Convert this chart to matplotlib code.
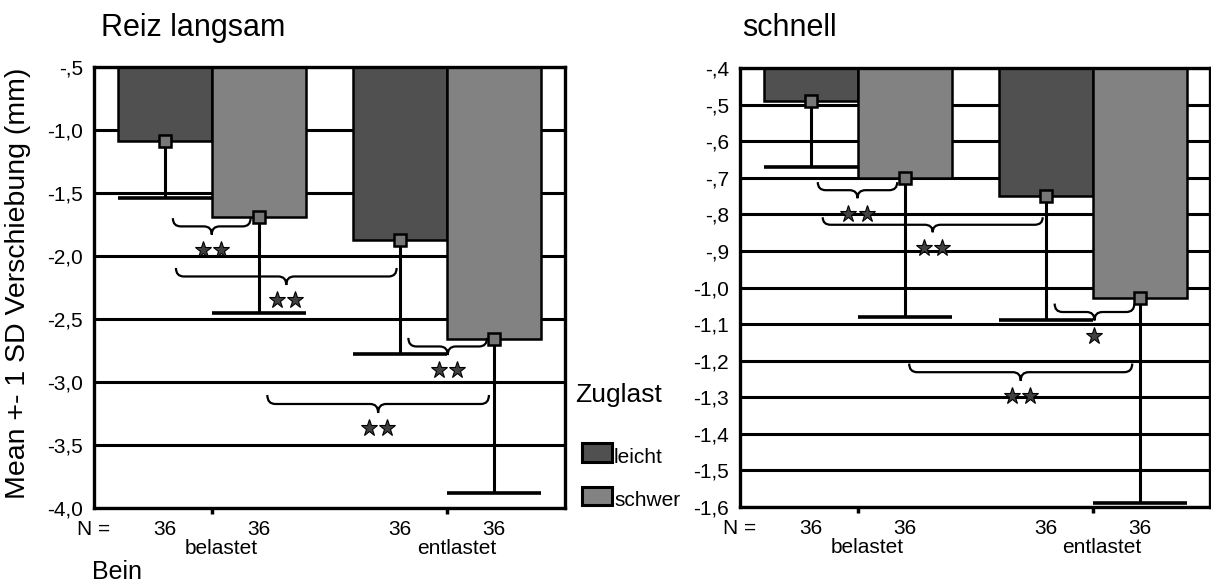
import matplotlib
matplotlib.use("Agg")
import matplotlib.pyplot as plt
from matplotlib.path import Path
from matplotlib.patches import PathPatch, Rectangle
from matplotlib.transforms import offset_copy, blended_transform_factory

plt.rcParams['font.family'] = ['Liberation Sans', 'DejaVu Sans']

# Daten
groups = ["belastet", "entlastet"]
loads = ["leicht", "schwer"]
n_leicht = [36, 36]
n_schwer = [36, 36]

# Reiz langsam
slow_leicht_mean = [-1.09, -1.87]
slow_schwer_mean = [-1.69, -2.66]
slow_leicht_sd = [0.45, 0.91]
slow_schwer_sd = [0.76, 1.22]
slow_ticks = [-0.5, -1.0, -1.5, -2.0, -2.5, -3.0, -3.5, -4.0]

# schnell
fast_leicht_mean = [-0.49, -0.75]
fast_schwer_mean = [-0.70, -1.03]
fast_leicht_sd = [0.18, 0.34]
fast_schwer_sd = [0.38, 0.56]
fast_ticks = [-0.4, -0.5, -0.6, -0.7, -0.8, -0.9, -1.0, -1.1, -1.2, -1.3, -1.4, -1.5, -1.6]

# Signifikanz-Klammern (x von, x bis, y oben, y Spitze, Anzahl Sterne)
slow_brace_x0 = [-0.165, -0.152, 0.835, 0.236]
slow_brace_x1 = [0.165, 0.785, 1.169, 1.177]
slow_brace_top = [-1.70, -2.095, -2.65, -3.103]
slow_brace_tip = [-1.83, -2.23, -2.786, -3.246]
slow_stars = [2, 2, 2, 2]

fast_brace_x0 = [-0.169, -0.148, 0.839, 0.22]
fast_brace_x1 = [0.169, 0.788, 1.178, 1.169]
fast_brace_top = [-0.712, -0.808, -1.044, -1.208]
fast_brace_tip = [-0.756, -0.849, -1.09, -1.255]
fast_stars = [2, 2, 1, 2]

dark = "#505050"
light = "#828282"
W, H = 1211, 584


def fx(px):
    return px / W


def fy(py):
    return 1 - py / H


def fmt(v):
    s = f"{v:.1f}".replace(".", ",")
    return s.replace("-0,", "-,")


def brace(ax, x0, x1, ytop, ytip, r=0.034):
    ym = (ytop + ytip) / 2
    xm = (x0 + x1) / 2
    verts = [(x0, ytop), (x0, ym), (x0 + r, ym),
             (xm - r, ym),
             (xm, ym), (xm, ytip),
             (xm, ym), (xm + r, ym),
             (x1 - r, ym),
             (x1, ym), (x1, ytop)]
    codes = [Path.MOVETO, Path.CURVE3, Path.CURVE3, Path.LINETO,
             Path.CURVE3, Path.CURVE3, Path.CURVE3, Path.CURVE3,
             Path.LINETO, Path.CURVE3, Path.CURVE3]
    ax.add_patch(PathPatch(Path(verts, codes), fill=False, lw=1.6,
                           edgecolor="black", zorder=5))


def panel(ax, lm, sm, lsd, ssd, ticks, bx0, bx1, btop, btip, nstars):
    base = ticks[0]
    ax.set_xlim(-0.5, 1.5)
    ax.set_ylim(ticks[-1], ticks[0])
    for t in ticks:
        ax.axhline(t, color="black", lw=2.2, zorder=1)
    xs = [0, 1]
    for off, means, sds, col in [(-0.2, lm, lsd, dark), (0.2, sm, ssd, light)]:
        pos = [x + off for x in xs]
        ax.bar(pos, [m - base for m in means], bottom=base, width=0.4,
               color=col, edgecolor="black", lw=1.8, zorder=2)
        lows = [m - s for m, s in zip(means, sds)]
        ax.vlines(pos, lows, means, color="black", lw=2.2, zorder=3)
        ax.hlines(lows, [p - 0.2 for p in pos], [p + 0.2 for p in pos],
                  color="black", lw=2.6, zorder=3)
        ax.plot(pos, means, ls="none", marker="s", ms=8, mfc="#777777",
                mec="black", mew=1.8, zorder=4)
    for x0, x1, yt, yp, n in zip(bx0, bx1, btop, btip, nstars):
        brace(ax, x0, x1, yt, yp)
        xm = (x0 + x1) / 2
        offs = [0.0] if n == 1 else [-6.5, 6.5]
        for dx in offs:
            tr = offset_copy(ax.transData, fig=ax.figure, x=dx, y=-11, units="points")
            ax.plot([xm], [yp], ls="none", marker="*", ms=12.5, mfc="#404040",
                    mec="black", mew=0.8, transform=tr, zorder=6, clip_on=False)
    ax.set_yticks(ticks)
    ax.set_yticklabels([fmt(t) for t in ticks], fontsize=15)
    ax.tick_params(axis="y", length=0, pad=8)
    ax.set_xticks(xs)
    ax.set_xticklabels(["", ""])
    ax.tick_params(axis="x", length=4, width=2.5, direction="out")
    for sp in ax.spines.values():
        sp.set_linewidth(2.4)
        sp.set_zorder(7)
    tr = blended_transform_factory(ax.transData, ax.transAxes)
    ax.text(-0.5, -0.048, "N =", transform=tr, ha="center", va="center", fontsize=15)
    for x in xs:
        ax.text(x - 0.2, -0.048, str(n_leicht[x]), transform=tr, ha="center",
                va="center", fontsize=15)
        ax.text(x + 0.2, -0.048, str(n_schwer[x]), transform=tr, ha="center",
                va="center", fontsize=15)
        ax.text(x + 0.04, -0.092, groups[x], transform=tr, ha="center",
                va="center", fontsize=15)


fig = plt.figure(figsize=(W / 100, H / 100), dpi=100)
ax1 = fig.add_axes([fx(94), fy(508), (565 - 94) / W, (508 - 67) / H])
ax2 = fig.add_axes([fx(740), fy(507), 470 / W, (507 - 68) / H])

panel(ax1, slow_leicht_mean, slow_schwer_mean, slow_leicht_sd, slow_schwer_sd,
      slow_ticks, slow_brace_x0, slow_brace_x1, slow_brace_top, slow_brace_tip, slow_stars)
panel(ax2, fast_leicht_mean, fast_schwer_mean, fast_leicht_sd, fast_schwer_sd,
      fast_ticks, fast_brace_x0, fast_brace_x1, fast_brace_top, fast_brace_tip, fast_stars)

fig.text(fx(101), fy(28), "Reiz langsam", ha="left", va="center", fontsize=22)
fig.text(fx(742), fy(28), "schnell", ha="left", va="center", fontsize=22)
fig.text(fx(18), fy(283), "Mean +- 1 SD Verschiebung (mm)", rotation=90,
         ha="center", va="center", fontsize=20.5)
fig.text(fx(92), fy(572), "Bein", ha="left", va="center", fontsize=18)

# Legende
fig.text(fx(575), fy(395), "Zuglast", ha="left", va="center", fontsize=19)
for (y0, y1), col, lab in [((443, 462), dark, loads[0]), ((487, 505), light, loads[1])]:
    fig.patches.append(Rectangle((fx(582), fy(y1)), 30 / W, (y1 - y0) / H,
                                 transform=fig.transFigure, facecolor=col,
                                 edgecolor="black", lw=2.2))
    fig.text(fx(614), fy(y1 + 1), lab, ha="left", va="baseline", fontsize=15)

fig.savefig("out.png", dpi=100)
